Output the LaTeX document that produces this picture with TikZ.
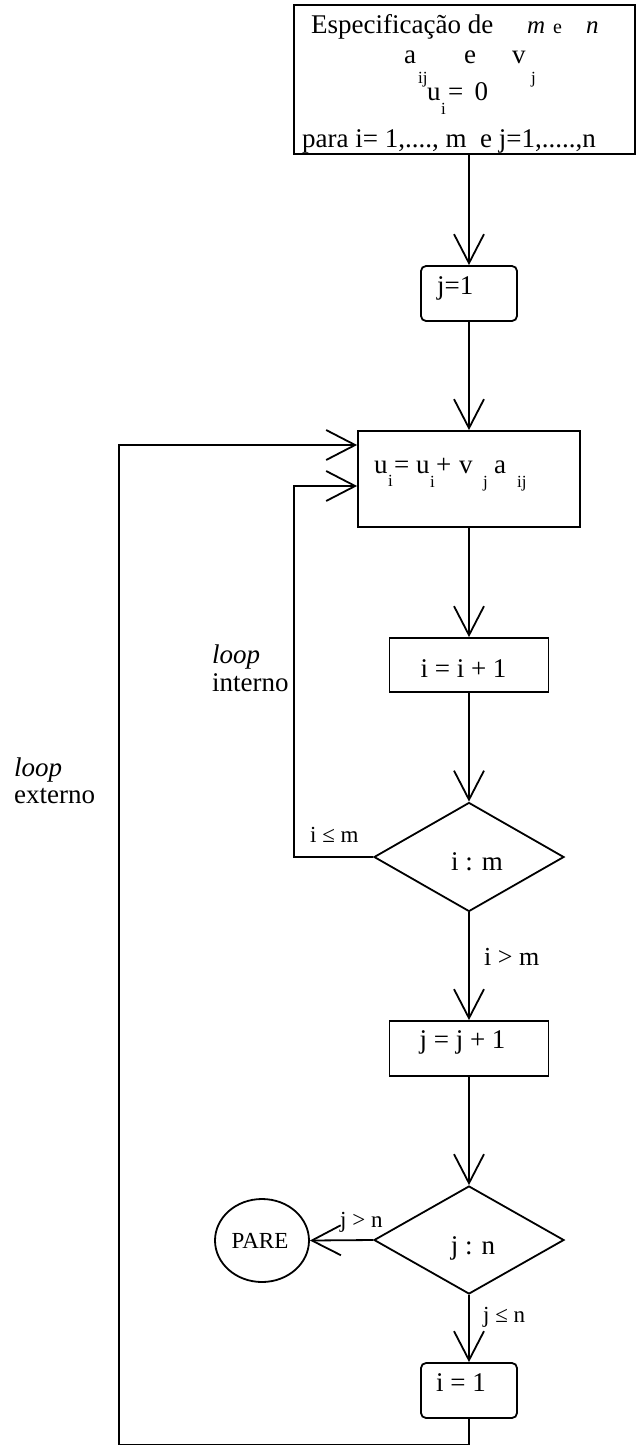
\documentclass[tikz,border=0pt]{standalone}
\usepackage{fontspec}
\setmainfont{Liberation Serif}
\usetikzlibrary{arrows.meta,shapes.geometric}
\newcommand\fsz[1]{\fontsize{#1}{#1}\selectfont}
\tikzset{
  ln/.style={line width=1.8pt},
  arr/.style={ln,-{Straight Barb[length=29pt,width=30pt]}},
  boxs/.style={draw,ln,inner sep=0pt,minimum width=#1},
  rbox/.style={boxs=#1,rounded corners=5pt,minimum height=55pt},
  dia/.style={draw,ln,diamond,inner sep=0pt,minimum width=190pt,minimum height=109pt},
  tx/.style={inner sep=0pt,anchor=base west,font=\fsz{27}},
  sub/.style={inner sep=0pt,anchor=base west,font=\fsz{17}},
  lab/.style={inner sep=0pt,anchor=base west,font=\fsz{23}},
}
\begin{document}
\begin{tikzpicture}[x=1pt,y=-1pt]
\useasboundingbox (0,0) rectangle (636,1446);
% boxes
\node[boxs=341pt,minimum height=149pt] (top) at (464.5,79.5) {};
\node[rbox=96pt] (j1) at (469,293.5) {};
\node[boxs=222pt,minimum height=96pt] (ubox) at (469,479) {};
\node[boxs=159pt,minimum height=54pt] (inci) at (469,665) {};
\node[dia] (dim) at (469,857) {};
\node[boxs=159pt,minimum height=55pt] (incj) at (469,1048.5) {};
\node[dia,minimum height=108pt] (djn) at (469,1240) {};
\node[draw,ln,ellipse,inner sep=0pt,minimum width=94pt,minimum height=83pt] (pare) at (262,1240.5) {};
\node[rbox=96pt] (i1) at (469,1390.5) {};
% top box text
\node[tx] (t1) at (311,33) {Especificação de};
\node[tx,font=\fsz{25}\itshape] (t1m) at (527,33) {m};
\node[tx,font=\fsz{20}] (t1e) at (553,33) {e};
\node[tx,font=\fsz{25}\itshape] (t1n) at (586,33) {n};
\node[tx] (t2a) at (404,63) {a};
\node[sub] (t2ij) at (418,83) {ij};
\node[tx] (t2e) at (464,63) {e};
\node[tx] (t2v) at (512,63) {v};
\node[sub] (t2j) at (531,83) {j};
\node[tx] (t3u) at (427,100) {u};
\node[sub] (t3i) at (441,114) {i};
\node[tx] (t3eq) at (448,100) {= \,0};
\node[tx] (t4) at (302,147) {para i= 1,...., m\ \ e j=1,.....,n};
% j=1
\node[tx] (j1t) at (437,294) {j=1};
% u box text
\node[tx] (uu1) at (374,473) {u};
\node[sub] (ui1) at (388,486) {i};
\node[tx] (ueq) at (394,473) {=};
\node[tx] (uu2) at (416,473) {u};
\node[sub] (ui2) at (430,487) {i};
\node[tx] (uplus) at (436,473) {+};
\node[tx] (uv) at (459,473) {v};
\node[sub] (uj) at (483,487) {j};
\node[tx] (ua) at (494,473) {a};
\node[sub] (uij) at (517,487) {ij};
% other texts
\node[tx,anchor=base] (inct) at (463.5,677) {i = i + 1};
\node[tx,anchor=base] (dimt) at (477,870) {i : m};
\node[tx,anchor=base] (incjt) at (462.5,1048) {j = j + 1};
\node[tx,anchor=base] (djnt) at (473,1254) {j : n};
\node[tx,anchor=base,font=\fsz{23}] (paret) at (260,1248) {PARE};
\node[tx,anchor=base] (i1t) at (461,1391) {i = 1};
\node[lab] (lle) at (310,842) {i ≤ m};
\node[lab,font=\fsz{26}] (lgt) at (484,965) {i > m};
\node[lab] (jgt) at (340,1227) {j > n};
\node[lab] (jle) at (483,1322) {j ≤ n};
\node[tx,font=\fsz{27}\itshape] (li1) at (212,663) {loop};
\node[tx] (li2) at (212,691) {interno};
\node[tx,font=\fsz{27}\itshape] (le1) at (14,776) {loop};
\node[tx] (le2) at (14,803) {externo};
% connectors
\draw[arr] (top.south -| j1.north) -- (j1.north);
\draw[arr] (j1.south) -- (ubox.north);
\draw[arr] (ubox.south) -- (inci.north);
\draw[arr] (inci.south) -- (dim.north);
\draw[arr] (dim.south) -- (incj.north);
\draw[arr] (incj.south) -- (djn.north);
\draw[arr] (djn.south) -- (i1.north);
\draw[arr] (djn.west) -- (pare.east);
\coordinate (lpi) at (294,857);
\draw[arr] (dim.west) -- (lpi) |- ([yshift=-7pt]ubox.west);
\coordinate (lpo) at (119,1444.5);
\draw[arr] (i1.south) |- (lpo) |- ([yshift=34pt]ubox.west);
\end{tikzpicture}
\end{document}
